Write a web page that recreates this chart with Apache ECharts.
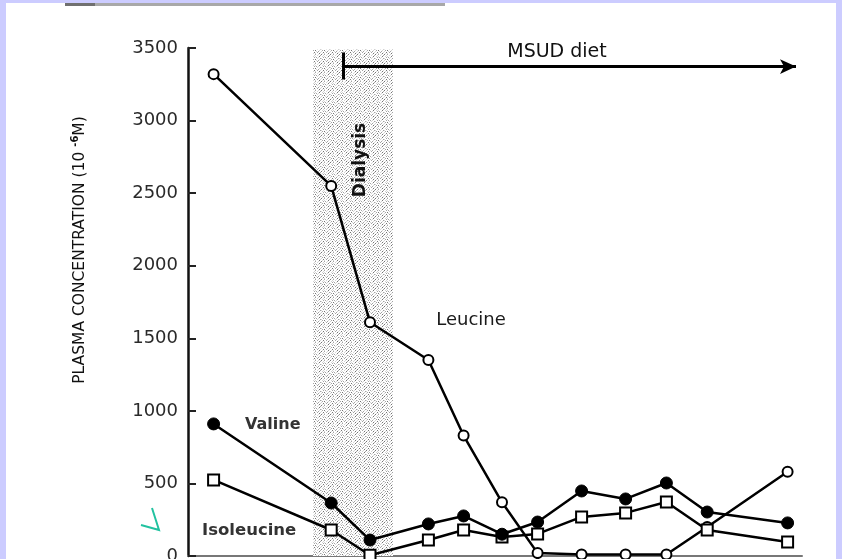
<!DOCTYPE html>
<html>
<head>
<meta charset="utf-8">
<script src="https://cdn.jsdelivr.net/npm/echarts@6/dist/echarts.min.js"></script>
<style>
html,body{margin:0;padding:0;background:#ccccff;}
#c{width:842px;height:559px;}
</style>
</head>
<body>
<div id="c"></div>
<script>
// time (days, estimated from positions)
const days = [0.64, 3.58, 4.55, 6.01, 6.89, 7.85, 8.74, 9.84, 10.94, 11.96, 12.98, 14.99];
const leucine = [3320, 2550, 1610, 1350, 830, 370, 20, 10, 10, 10, 200, 580];
const valine = [910, 365, 110, 221, 276, 150, 234, 448, 393, 503, 303, 228];
const isoleucine = [524, 179, 5, 110, 179, 131, 152, 269, 297, 372, 179, 97];
const yTicks = [0, 500, 1000, 1500, 2000, 2500, 3000, 3500];
const dialysis = [3.125, 5.125];
const diet = [3.875, 15.2];

// stipple texture for the dialysis band
const tile = [
  "200100300",
  "001002001",
  "100030010",
  "020100002",
  "001002100",
  "300010020",
  "010200100",
  "002001003",
  "100030010"
];
const shades = ['#ffffff', '#d4d4d4', '#a4a4a4', '#747474'];
const N = tile.length;
const pc = document.createElement('canvas');
pc.width = N; pc.height = N;
const pctx = pc.getContext('2d');
for (let r = 0; r < N; r++) for (let c = 0; c < N; c++) {
  pctx.fillStyle = shades[+tile[r][c]];
  pctx.fillRect(c, r, 1, 1);
}

const pairs = (ys) => days.map((d, i) => [d, ys[i]]);

const chart = echarts.init(document.getElementById('c'), null, {renderer: 'canvas'});
const font = '"DejaVu Sans", sans-serif';
chart.setOption({
  animation: false,
  backgroundColor: '#ccccff',
  grid: {left: 188, top: 48, right: 40, bottom: 3, containLabel: false, outerBoundsMode: 'none'},
  xAxis: {
    type: 'value', min: 0, max: 15.35,
    axisLine: {show: true, lineStyle: {color: '#777', width: 2}},
    axisTick: {show: false}, axisLabel: {show: false}, splitLine: {show: false}
  },
  yAxis: {
    type: 'value', min: yTicks[0], max: yTicks[yTicks.length - 1], interval: 500,
    axisLine: {show: true, lineStyle: {color: '#111', width: 2.5}},
    axisTick: {show: true, inside: true, length: 8, lineStyle: {color: '#222', width: 2}},
    axisLabel: {margin: 10, fontFamily: font, fontSize: 18, color: '#2a2a2a', formatter: (v) => String(v)},
    splitLine: {show: false}
  },
  graphic: [
    {type: 'rect', z: -10, shape: {x: 6, y: 3, width: 830, height: 556}, style: {fill: '#ffffff'}, silent: true},
    {type: 'rect', z: -9, shape: {x: 65, y: 3, width: 380, height: 3}, style: {fill: '#a8a8a8'}, silent: true},
    {type: 'rect', z: -9, shape: {x: 65, y: 3, width: 30, height: 3}, style: {fill: '#707070'}, silent: true},
    {type: 'polyline', shape: {points: [[152, 508], [159, 530], [141, 525]]}, style: {stroke: '#22c2a0', lineWidth: 2, fill: null}, silent: true},
    {type: 'text', x: 80, y: 250, rotation: Math.PI / 2, silent: true,
      style: {
        text: '{a|PLASMA CONCENTRATION (10 }{s|-6}{a|M)}',
        align: 'center', verticalAlign: 'middle',
        rich: {
          a: {fontFamily: font, fontSize: 15.5, fill: '#111', lineHeight: 20},
          s: {fontFamily: font, fontSize: 10, fontWeight: 'bold', fill: '#111', lineHeight: 20, verticalAlign: 'top'}
        }
      }},
    {type: 'text', x: 471, y: 320, silent: true, style: {text: 'Leucine', fontFamily: font, fontSize: 18, fill: '#1a1a1a', align: 'center', verticalAlign: 'middle'}},
    {type: 'text', x: 245, y: 425, silent: true, style: {text: 'Valine', fontFamily: font, fontWeight: 'bold', fontSize: 16, fill: '#333', align: 'left', verticalAlign: 'middle'}},
    {type: 'text', x: 202, y: 531, silent: true, style: {text: 'Isoleucine', fontFamily: font, fontWeight: 'bold', fontSize: 16.5, fill: '#333', align: 'left', verticalAlign: 'middle'}},
    {type: 'text', x: 361, y: 160, rotation: Math.PI / 2, silent: true, z: 10, style: {text: 'Dialysis', fontFamily: font, fontWeight: 'bold', fontSize: 17, fill: '#111', align: 'center', verticalAlign: 'middle'}},
    {type: 'text', x: 557, y: 52, silent: true, style: {text: 'MSUD diet', fontFamily: font, fontSize: 19, fill: '#111', align: 'center', verticalAlign: 'middle'}}
  ],
  series: [
    {
      name: 'Leucine', type: 'line', data: pairs(leucine), z: 3,
      symbol: 'circle', symbolSize: 10,
      lineStyle: {color: '#000', width: 2.5},
      itemStyle: {color: '#fff', borderColor: '#000', borderWidth: 2},
      markArea: {
        silent: true,
        itemStyle: {color: {image: pc, repeat: 'repeat'}},
        data: [[{xAxis: dialysis[0], yAxis: 0}, {xAxis: dialysis[1], yAxis: 3490}]]
      }
    },
    {
      name: 'Isoleucine', type: 'line', data: pairs(isoleucine), z: 4,
      symbol: 'rect', symbolSize: 11,
      lineStyle: {color: '#000', width: 2.5},
      itemStyle: {color: '#fff', borderColor: '#000', borderWidth: 2}
    },
    {
      name: 'Valine', type: 'line', data: pairs(valine), z: 5,
      symbol: 'circle', symbolSize: 12,
      lineStyle: {color: '#000', width: 2.5},
      itemStyle: {color: '#000', borderColor: '#000', borderWidth: 1},
      markLine: {
        silent: true, symbol: ['none', 'none'], animation: false,
        label: {show: false},
        lineStyle: {color: '#000', width: 3, type: 'solid'},
        data: [
          [{coord: [diet[0], 3372], symbol: 'none'}, {coord: [diet[1], 3372], symbol: 'arrow', symbolSize: [11, 16]}],
          [{coord: [diet[0], 3283]}, {coord: [diet[0], 3469]}]
        ]
      }
    }
  ]
});
</script>
</body>
</html>
